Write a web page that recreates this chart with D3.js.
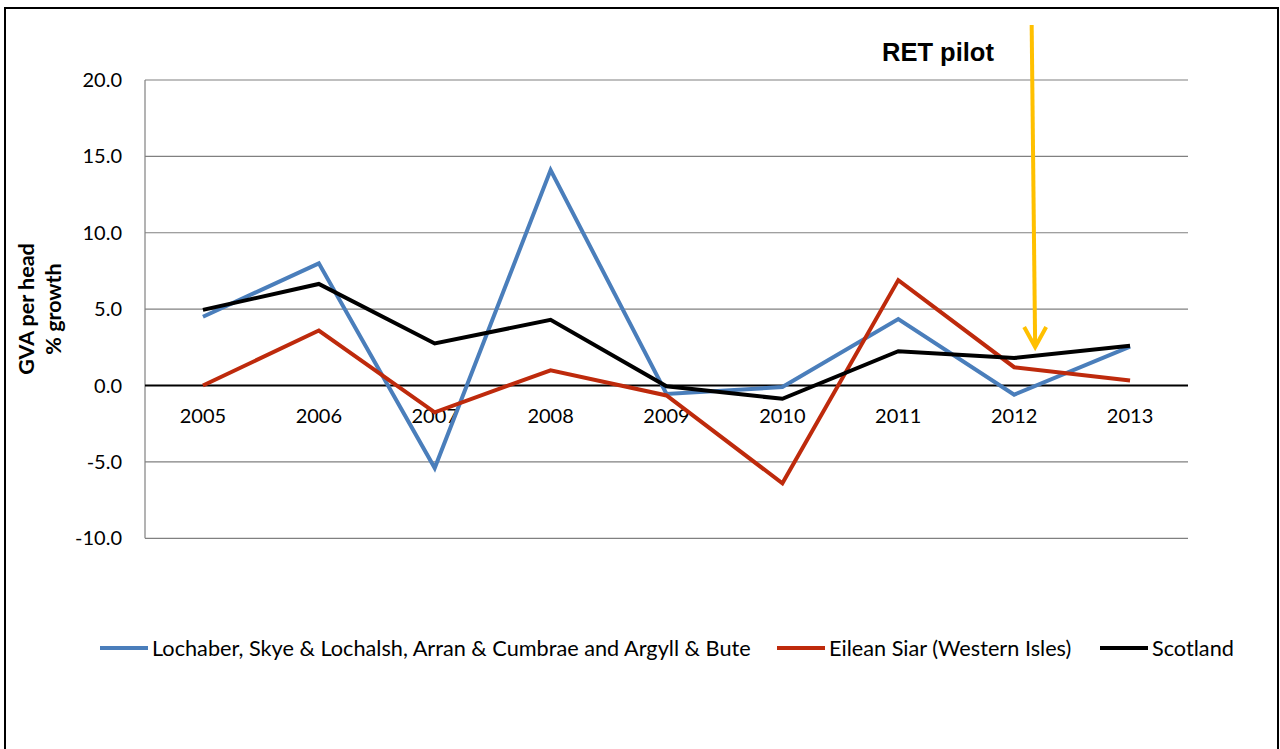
<!DOCTYPE html>
<html>
<head>
<meta charset="utf-8">
<script src="https://cdn.jsdelivr.net/npm/d3@7"></script>
<style>
  html, body { margin: 0; padding: 0; background: #fff; }
  svg { display: block; }
</style>
</head>
<body>
<svg id="chart" width="1280" height="749"></svg>
<script>
const years = ["2005","2006","2007","2008","2009","2010","2011","2012","2013"];
const lochaber = [4.5, 8.0, -5.4, 14.1, -0.55, -0.1, 4.35, -0.6, 2.55];
const eileanSiar = [0.0, 3.6, -1.75, 1.0, -0.65, -6.4, 6.9, 1.2, 0.33];
const scotland = [4.95, 6.65, 2.75, 4.3, -0.05, -0.87, 2.25, 1.8, 2.6];
const yTicks = [-10, -5, 0, 5, 10, 15, 20];
const seriesNames = ["Lochaber, Skye & Lochalsh, Arran & Cumbrae and Argyll & Bute", "Eilean Siar (Western Isles)", "Scotland"];
const seriesColors = ["#4A7EBB", "#BE2A0C", "#000000"];
const annotationYear = "2012";

const svg = d3.select("#chart");
const font = "Lato, 'Open Sans', sans-serif";

// outer frame
svg.append("rect").attr("x", 5).attr("y", 8).attr("width", 1273).attr("height", 760)
  .attr("fill", "none").attr("stroke", "#000").attr("stroke-width", 2);

const x = d3.scaleBand().domain(years).range([145, 1188]);
const xc = d => x(d) + x.bandwidth() / 2;
const y = d3.scaleLinear().domain([-10, 20]).range([538.3, 80]);

// gridlines
svg.append("g").selectAll("line").data(yTicks.filter(t => t !== 0)).join("line")
  .attr("x1", 145).attr("x2", 1188)
  .attr("y1", d => y(d)).attr("y2", d => y(d))
  .attr("stroke", "#808080").attr("stroke-width", 1.2);

// left axis line
svg.append("line").attr("x1", 145).attr("x2", 145).attr("y1", y(20)).attr("y2", y(-10))
  .attr("stroke", "#808080").attr("stroke-width", 1.2);

// y tick labels
svg.append("g").selectAll("text").data(yTicks).join("text")
  .attr("x", 122).attr("y", d => y(d)).attr("dy", "0.35em")
  .attr("text-anchor", "end").attr("font-family", font).attr("font-size", 20).attr("fill", "#000")
  .text(d => d.toFixed(1));

// x tick labels
svg.append("g").selectAll("text").data(years).join("text")
  .attr("x", d => xc(d)).attr("y", 423)
  .attr("text-anchor", "middle").attr("font-family", font).attr("font-size", 20).attr("fill", "#000")
  .text(d => d);

// zero line
svg.append("line").attr("x1", 145).attr("x2", 1188).attr("y1", y(0)).attr("y2", y(0))
  .attr("stroke", "#000").attr("stroke-width", 2);

// y title
const yt = svg.append("text").attr("transform", "translate(0,309) rotate(-90)")
  .attr("text-anchor", "middle").attr("font-family", font).attr("font-size", 21.5).attr("font-weight", "bold");
yt.append("tspan").attr("x", 0).attr("y", 34).text("GVA per head");
yt.append("tspan").attr("x", 0).attr("y", 61).text("% growth");

// lines
const line = d3.line().x((d, i) => xc(years[i])).y(d => y(d));
[lochaber, eileanSiar, scotland].forEach((s, i) => {
  svg.append("path").datum(s).attr("d", line)
    .attr("fill", "none").attr("stroke", seriesColors[i]).attr("stroke-width", 4)
    .attr("stroke-linejoin", "miter");
});

// annotation arrow
const ax = xc(annotationYear) + 21;
svg.append("line").attr("x1", ax - 3.5).attr("y1", 25).attr("x2", ax).attr("y2", 347)
  .attr("stroke", "#FFC000").attr("stroke-width", 4);
svg.append("path").attr("d", `M${ax - 11},327 L${ax},347 L${ax + 11},327`)
  .attr("fill", "none").attr("stroke", "#FFC000").attr("stroke-width", 4);
svg.append("text").attr("x", 882).attr("y", 61).attr("font-family", "'Liberation Sans', Arial, sans-serif")
  .attr("font-size", 25.5).attr("font-weight", "bold").attr("fill", "#000").text("RET pilot");

// legend
const legendX = [100, 777, 1100];
const lg = svg.append("g").selectAll("g").data(seriesNames).join("g");
lg.append("line").attr("x1", (d, i) => legendX[i]).attr("x2", (d, i) => legendX[i] + 48)
  .attr("y1", 648).attr("y2", 648)
  .attr("stroke", (d, i) => seriesColors[i]).attr("stroke-width", 4);
lg.append("text").attr("x", (d, i) => legendX[i] + 52).attr("y", 648).attr("dy", "0.35em")
  .attr("font-family", font).attr("font-size", 21.7).attr("fill", "#000").text(d => d);
</script>
</body>
</html>
